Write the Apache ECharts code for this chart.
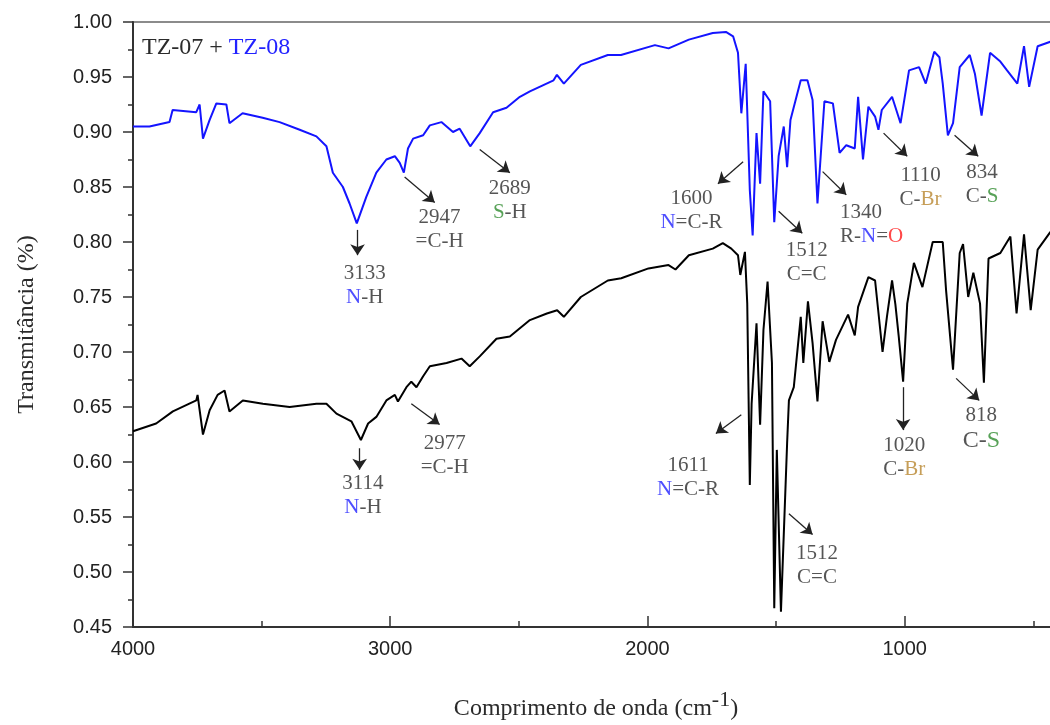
<!DOCTYPE html>
<html>
<head>
<meta charset="utf-8">
<script src="https://cdn.jsdelivr.net/npm/echarts@6/dist/echarts.min.js"></script>
<style>html,body{margin:0;padding:0;background:#fff}#c{width:1050px;height:725px}</style>
</head>
<body>
<div id="c"></div>
<script>
// ---- data ----
const xTickLabels = [4000, 3000, 2000, 1000];
const xMinorTicks = [3500, 2500, 1500, 500];

const blueWn = [4000,3994,3936,3858,3846,3754,3741,3728,3702,3676,3637,3625,3574,3496,3430,3352,3287,3248,3223,3184,3158,3130,3093,3054,3015,2982,2963,2947,2931,2911,2872,2846,2801,2756,2730,2689,2652,2600,2548,2496,2457,2365,2352,2325,2259,2154,2103,1971,1918,1839,1746,1695,1667,1648,1635,1618,1602,1591,1576,1562,1549,1523,1507,1490,1470,1457,1444,1404,1378,1358,1339,1312,1279,1253,1227,1194,1181,1162,1141,1115,1102,1089,1049,1016,983,944,918,885,865,852,832,812,786,747,727,701,668,628,602,562,536,516,483,434,400];
const blueT = [0.905,0.905,0.905,0.909,0.920,0.918,0.925,0.894,0.911,0.926,0.925,0.908,0.917,0.913,0.909,0.902,0.896,0.887,0.863,0.850,0.835,0.817,0.841,0.863,0.875,0.878,0.872,0.863,0.885,0.894,0.897,0.906,0.909,0.900,0.903,0.887,0.899,0.918,0.922,0.932,0.937,0.947,0.952,0.944,0.961,0.970,0.970,0.979,0.976,0.984,0.990,0.991,0.987,0.972,0.917,0.962,0.847,0.806,0.899,0.853,0.937,0.928,0.818,0.878,0.905,0.868,0.911,0.947,0.947,0.929,0.835,0.928,0.926,0.881,0.888,0.885,0.932,0.875,0.923,0.914,0.902,0.920,0.932,0.908,0.956,0.959,0.944,0.973,0.968,0.944,0.897,0.908,0.959,0.970,0.953,0.915,0.972,0.964,0.956,0.944,0.978,0.941,0.978,0.982,0.983];

const blackWn = [4000,3994,3910,3845,3754,3749,3728,3702,3671,3644,3625,3573,3495,3391,3287,3248,3209,3151,3114,3086,3054,3015,2982,2970,2937,2918,2898,2872,2846,2781,2723,2691,2652,2587,2535,2457,2391,2351,2325,2259,2154,2102,1996,1918,1891,1839,1746,1707,1674,1648,1639,1621,1612,1602,1595,1576,1562,1549,1533,1516,1507,1497,1481,1457,1450,1431,1404,1394,1376,1358,1339,1319,1293,1267,1220,1194,1181,1141,1115,1086,1069,1049,1036,1023,1006,990,964,931,891,852,839,812,786,773,753,733,707,692,674,628,589,565,536,510,483,434,400];
const blackT = [0.628,0.629,0.635,0.646,0.656,0.661,0.625,0.647,0.661,0.665,0.646,0.656,0.653,0.650,0.653,0.653,0.644,0.637,0.620,0.635,0.641,0.656,0.661,0.655,0.668,0.673,0.668,0.678,0.687,0.690,0.694,0.687,0.696,0.712,0.714,0.729,0.735,0.738,0.732,0.750,0.765,0.767,0.776,0.779,0.775,0.788,0.794,0.799,0.794,0.788,0.770,0.791,0.744,0.579,0.653,0.726,0.634,0.720,0.764,0.690,0.467,0.611,0.464,0.617,0.656,0.668,0.732,0.690,0.746,0.708,0.655,0.728,0.691,0.711,0.734,0.715,0.741,0.768,0.765,0.700,0.732,0.765,0.743,0.714,0.673,0.744,0.781,0.759,0.800,0.800,0.756,0.684,0.790,0.798,0.750,0.772,0.744,0.672,0.785,0.790,0.805,0.735,0.807,0.738,0.793,0.809,0.812];

// peak annotation texts (rich-text markup)
const peakTexts = [
  '{k|3133}\n{b|N}{k|-H}',
  '{k|2947}\n{k|=C-H}',
  '{k|2689}\n{g|S}{k|-H}',
  '{k|1600}\n{b|N}{k|=C-R}',
  '{k|1512}\n{k|C=C}',
  '{k|1340}\n{k|R-}{b|N}{k|=}{r|O}',
  '{k|1110}\n{k|C-}{o|Br}',
  '{k|834}\n{k|C-}{g|S}',
  '{k|3114}\n{b|N}{k|-H}',
  '{k|2977}\n{k|=C-H}',
  '{k|1611}\n{b|N}{k|=C-R}',
  '{k|1512}\n{k|C=C}',
  '{k|1020}\n{k|C-}{o|Br}',
  '{k|818}\n{K|C-}{G|S}'
];
// label anchor [wavenumber, transmittance]
const peakTextAt = [
  [3099,0.7605],[2808,0.811],[2535,0.838],[1829,0.829],[1381,0.781],[1251,0.816],[938,0.850],[699,0.852],
  [3106,0.570],[2788,0.606],[1842,0.586],[1341,0.506],[1002,0.6045],[702,0.630]
];
const peakTextAlign = ['center','center','center','center','center','left','center','center','center','center','center','center','center','center'];
// arrows [fromWn, fromT, toWn, toT]
const peakArrows = [
  [3127,0.811,3127,0.788],[2944,0.859,2827,0.836],[2652,0.884,2535,0.863],[1628,0.873,1726,0.853],
  [1490,0.828,1398,0.808],[1319,0.864,1227,0.843],[1082,0.899,990,0.878],[806,0.897,714,0.878],
  [3119,0.6125,3119,0.593],[2918,0.653,2808,0.634],[1635,0.643,1734,0.626],[1450,0.553,1358,0.534],
  [1006,0.668,1006,0.629],[800,0.676,710,0.656]
];

// ---- chart ----
const SERIF = '"Liberation Serif", "Times New Roman", serif';
const SANS = '"Liberation Sans", Arial, sans-serif';
const dark = '#2b2b2b';
const richStyles = {
  k: {fontFamily: SERIF, fontSize: 21, color: dark, lineHeight: 24},
  b: {fontFamily: SERIF, fontSize: 21, color: '#2222ff', lineHeight: 24},
  g: {fontFamily: SERIF, fontSize: 21, color: '#2e8b2e', lineHeight: 24},
  o: {fontFamily: SERIF, fontSize: 21, color: '#b8862e', lineHeight: 24},
  r: {fontFamily: SERIF, fontSize: 21, color: '#ff1a1a', lineHeight: 24},
  K: {fontFamily: SERIF, fontSize: 24, color: dark, lineHeight: 28},
  G: {fontFamily: SERIF, fontSize: 24, color: '#2e8b2e', lineHeight: 28}
};

const zip = (a, b) => a.map((v, i) => [v, b[i]]);

const chart = echarts.init(document.getElementById('c'), null, {renderer: 'canvas'});
chart.setOption({
  animation: false,
  backgroundColor: '#fff',
  title: {
    text: '{k|TZ-07 + }{b|TZ-08}',
    left: 137, top: 31,
    textStyle: {fontWeight: 'normal', rich: {
      k: {fontFamily: SERIF, fontSize: 24, fontWeight: 'normal', color: dark},
      b: {fontFamily: SERIF, fontSize: 24, fontWeight: 'normal', color: '#2222ff'}
    }}
  },
  grid: {left: 133, right: -9, top: 22, bottom: 98, show: true, borderColor: '#666', borderWidth: 1.5, containLabel: false, outerBoundsMode: 'none'},
  xAxis: [{
    type: 'value', min: 400, max: 4000, inverse: true, position: 'bottom',
    axisLine: {show: true, lineStyle: {color: '#333', width: 2}},
    axisTick: {show: true, inside: true, length: 11, customValues: xTickLabels, lineStyle: {color: '#333', width: 1.5}},
    axisLabel: {show: true, customValues: xTickLabels, margin: 12, fontFamily: SANS, fontSize: 20, color: '#222', formatter: v => String(v)},
    splitLine: {show: false},
    name: '{t|Comprimento de onda (cm}{s|-1}{t|)}',
    nameLocation: 'middle', nameGap: 62,
    nameTextStyle: {rich: {
      t: {fontFamily: SERIF, fontSize: 24, color: dark},
      s: {fontFamily: SERIF, fontSize: 22, color: dark, padding: [0, 0, 18, 0]}
    }}
  }, {
    type: 'value', min: 400, max: 4000, inverse: true, position: 'bottom',
    axisLine: {show: false},
    axisTick: {show: true, inside: true, length: 6, customValues: xMinorTicks, lineStyle: {color: '#333', width: 1.5}},
    axisLabel: {show: false},
    splitLine: {show: false}
  }],
  yAxis: {
    type: 'value', min: 0.45, max: 1.0, interval: 0.05,
    axisLine: {show: true, lineStyle: {color: '#333', width: 2}},
    axisTick: {show: true, inside: false, length: 10, lineStyle: {color: '#333', width: 1.5}},
    minorTick: {show: true, splitNumber: 2, length: 5, lineStyle: {color: '#333', width: 1.5}},
    axisLabel: {margin: 21, fontFamily: SANS, fontSize: 20, color: '#222', formatter: v => v.toFixed(2)},
    splitLine: {show: false},
    name: 'Transmitância (%)', nameLocation: 'middle', nameGap: 94, nameRotate: 90,
    nameTextStyle: {fontFamily: SERIF, fontSize: 24, color: dark}
  },
  series: [{
    name: 'TZ-07', type: 'line', xAxisIndex: 0, data: zip(blackWn, blackT),
    showSymbol: false, symbol: 'none', lineStyle: {color: '#000', width: 2}, z: 3
  }, {
    name: 'TZ-08', type: 'line', xAxisIndex: 0, data: zip(blueWn, blueT),
    showSymbol: false, symbol: 'none', lineStyle: {color: '#1414ff', width: 2}, z: 3
  }, {
    name: 'annotations', type: 'scatter', xAxisIndex: 0, symbolSize: 0, silent: true, z: 5,
    data: peakTextAt.map((p, i) => ({
      value: p,
      label: {show: true, position: 'inside', align: peakTextAlign[i], verticalAlign: 'middle', formatter: peakTexts[i], rich: richStyles}
    })),
    markLine: {
      silent: true, animation: false,
      symbol: ['none', 'arrow'], symbolSize: 11,
      lineStyle: {color: '#222', width: 1.3, type: 'solid'},
      label: {show: false},
      emphasis: {disabled: true},
      data: peakArrows.map(a => [{coord: [a[0], a[1]]}, {coord: [a[2], a[3]]}])
    }
  }]
});
</script>
</body>
</html>
